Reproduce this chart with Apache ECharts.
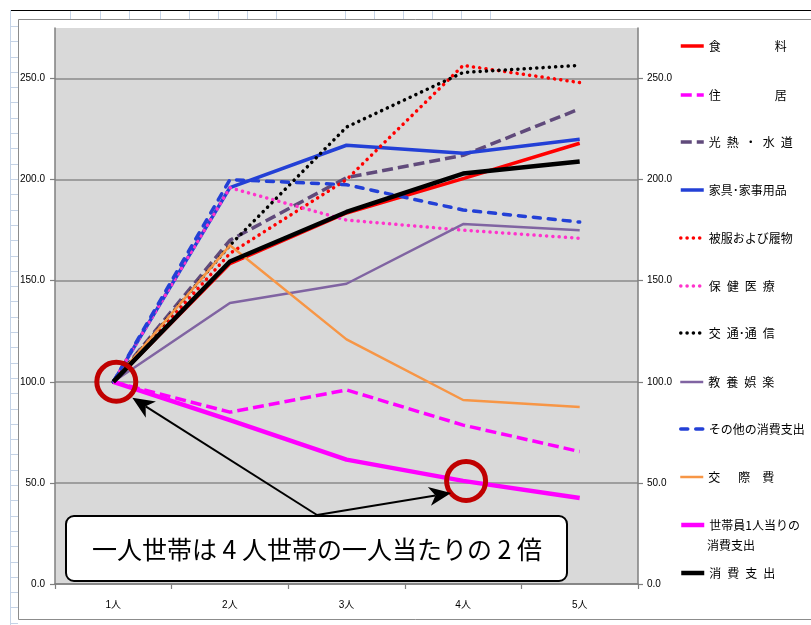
<!DOCTYPE html>
<html>
<head>
<meta charset="utf-8">
<script src="https://cdn.jsdelivr.net/npm/echarts@6/dist/echarts.min.js"></script>
<style>
  html, body { margin: 0; padding: 0; background: #ffffff; }
  #chart { width: 811px; height: 625px; }
</style>
</head>
<body>
<div id="chart"></div>
<script>
// 世帯人員別 消費支出の指数（1人 = 100）
const categories = ['1人', '2人', '3人', '4人', '5人'];

const food          = [100, 158.5, 183.5, 200.5, 218];
const housing       = [100, 85, 96, 78.6, 65.5];
const utilities     = [100, 170, 201, 212, 235];
const furniture     = [100, 196, 217, 213, 220];
const clothing      = [100, 163.5, 200, 256.5, 248];
const medical       = [100, 196, 180, 175, 171];
const transport     = [100, 167.5, 226, 253, 256.5];
const culture       = [100, 139, 148.5, 178, 175];
const otherSpending = [100, 200, 197.5, 185, 179];
const socialCost    = [100, 167.5, 121, 91, 87.5];
const perCapita     = [100, 81, 61.5, 51, 42.5];
const totalSpending = [100, 159.5, 184, 203, 209];

const seriesNames = [
  '食料', '住居', '光熱・水道', '家具・家事用品', '被服および履物', '保健医療',
  '交通・通信', '教養娯楽', 'その他の消費支出', '交際費', '世帯員1人当りの消費支出', '消費支出'
];
const legendLabels = [
  '食　　　　\u2002料', '住　　　　\u2002居', '光\u2002熱\u2002・\u2002水\u2002道', '家具･家事用品',
  '被服および履物', '保\u2002健\u2002医\u2002療', '交\u2002通･通\u2002信', '教\u2002養\u2002娯\u2002楽',
  'その他の消費支出', '交　\u2002際\u2002\u2002費', '世帯員1人当りの', '消\u2002費\u2002支\u2002出'
];
const seriesValues = [
  food, housing, utilities, furniture, clothing, medical,
  transport, culture, otherSpending, socialCost, perCapita, totalSpending
];

const yMin = 0, yMax = 275, yStep = 50;
const calloutText = '一人世帯は 4 人世帯の一人当たりの 2 倍';

// line appearance per series
const DOT = [0.1, 6.2];
const DASH = [11, 5];
const styles = [
  { color: '#FF0000', width: 3.5, type: 'solid' },
  { color: '#FF00FF', width: 3.5, type: DASH },
  { color: '#604A7B', width: 3.5, type: DASH },
  { color: '#2340D6', width: 3.5, type: 'solid' },
  { color: '#FF0000', width: 3.5, type: DOT, cap: 'round' },
  { color: '#FF33CC', width: 3.5, type: DOT, cap: 'round' },
  { color: '#000000', width: 3.5, type: DOT, cap: 'round' },
  { color: '#8064A2', width: 2.5, type: 'solid' },
  { color: '#2340D6', width: 3.5, type: [7, 8], cap: 'round' },
  { color: '#F79646', width: 2.5, type: 'solid' },
  { color: '#FF00FF', width: 4.5, type: 'solid' },
  { color: '#000000', width: 4.5, type: 'solid' }
];

const legendCenters = [47, 96, 143, 191, 239, 287, 334, 383, 430, 478, 526, 574];

const chart = echarts.init(document.getElementById('chart'), null, { renderer: 'canvas' });

const axisFont = { fontFamily: 'Liberation Sans, Noto Sans CJK JP, sans-serif', fontSize: 10, color: '#000' };

const yAxisCommon = {
  type: 'value', min: yMin, max: yMax, interval: yStep,
  axisLine: { show: true, lineStyle: { color: '#7f7f7f', width: 1.5 } },
  axisTick: { show: true, length: 5, lineStyle: { color: '#7f7f7f', width: 1.2 } },
  axisLabel: Object.assign({ showMaxLabel: false, formatter: v => v.toFixed(1) }, axisFont)
};

const option = {
  animation: false,
  backgroundColor: '#ffffff',
  grid: {
    left: 55, right: 173, top: 28, bottom: 41,
    show: true, backgroundColor: '#D9D9D9', borderWidth: 0, containLabel: false
  },
  xAxis: {
    type: 'category', data: categories, boundaryGap: true,
    axisLine: { lineStyle: { color: '#7f7f7f', width: 1.5 } },
    axisTick: { show: true, length: 5, lineStyle: { color: '#7f7f7f', width: 1.2 } },
    axisLabel: Object.assign({ margin: 16 }, axisFont),
    splitLine: { show: false }
  },
  yAxis: [
    Object.assign({}, yAxisCommon, {
      position: 'left',
      axisLabel: Object.assign({}, yAxisCommon.axisLabel, { margin: 10 }),
      splitLine: { show: true, showMaxLine: false, lineStyle: { color: '#8a8a8a', width: 1.5 } }
    }),
    Object.assign({}, yAxisCommon, {
      position: 'right',
      axisLabel: Object.assign({}, yAxisCommon.axisLabel, { margin: 9 }),
      splitLine: { show: false }
    })
  ],
  legend: seriesNames.map((name, i) => ({
    data: [name],
    orient: 'vertical',
    left: 679,
    top: legendCenters[i] - 7,
    itemWidth: 23,
    itemHeight: 14,
    padding: 0,
    selectedMode: false,
    formatter: () => legendLabels[i],
    lineStyle: { width: 'inherit' },
    itemStyle: { opacity: 0, borderWidth: 0 },
    textStyle: { fontFamily: 'Noto Sans CJK JP, sans-serif', fontSize: 12, color: '#000' }
  })),
  series: seriesNames.map((name, i) => ({
    name: name,
    type: 'line',
    data: seriesValues[i],
    yAxisIndex: 0,
    symbol: 'none',
    showSymbol: false,
    smooth: false,
    z: 2 + i,
    lineStyle: {
      color: styles[i].color,
      width: styles[i].width,
      type: styles[i].type,
      cap: styles[i].cap || 'butt',
      join: 'round'
    },
    itemStyle: { color: styles[i].color }
  }))
};

chart.setOption(option);

// stealth-style arrowhead + shaft from a start point to a tip
function arrow(from, tip) {
  const dx = from[0] - tip[0], dy = from[1] - tip[1];
  const len = Math.sqrt(dx * dx + dy * dy);
  const ux = dx / len, uy = dy / len;
  const nx = -uy, ny = ux;
  const L = 22, W = 9.5;
  const base = [tip[0] + ux * L, tip[1] + uy * L];
  const notch = [tip[0] + ux * L * 0.72, tip[1] + uy * L * 0.72];
  return [
    {
      type: 'line', z: 100,
      shape: { x1: from[0], y1: from[1], x2: notch[0], y2: notch[1] },
      style: { stroke: '#000', lineWidth: 2 }
    },
    {
      type: 'polygon', z: 101,
      shape: { points: [tip, [base[0] + nx * W, base[1] + ny * W], notch, [base[0] - nx * W, base[1] - ny * W]] },
      style: { fill: '#000' }
    }
  ];
}

const p1 = chart.convertToPixel({ xAxisIndex: 0, yAxisIndex: 0 }, [categories[0], perCapita[0]]);
const p2 = chart.convertToPixel({ xAxisIndex: 0, yAxisIndex: 0 }, [categories[3], perCapita[3]]);
const c1 = [p1[0] + 3, p1[1]];
const c2 = [p2[0] + 3, p2[1]];
const origin = [317, 515];

const graphics = [];

// worksheet surroundings
graphics.push({ type: 'line', z: -10, shape: { x1: 10, y1: 10.5, x2: 811, y2: 10.5 }, style: { stroke: '#000', lineWidth: 1.2 } });
graphics.push({ type: 'line', z: -10, shape: { x1: 10.5, y1: 10, x2: 10.5, y2: 625 }, style: { stroke: '#c5d3e6', lineWidth: 1 } });
for (let y = 26; y < 625; y += 15.3) {
  graphics.push({ type: 'line', z: -10, shape: { x1: 10, y1: Math.round(y) + 0.5, x2: 18, y2: Math.round(y) + 0.5 }, style: { stroke: '#c5d3e6', lineWidth: 1 } });
}
[70, 100, 129, 160, 189, 218, 247, 276, 345, 374, 403, 432, 461, 490].forEach(x => {
  graphics.push({ type: 'line', z: -10, shape: { x1: x + 0.5, y1: 11, x2: x + 0.5, y2: 19 }, style: { stroke: '#c5d3e6', lineWidth: 1 } });
});
graphics.push({ type: 'rect', z: -5, shape: { x: 18.5, y: 19.5, width: 800, height: 600 }, style: { fill: '#fff', stroke: '#8c8c8c', lineWidth: 1 } });

// circled points
[c1, c2].forEach(c => {
  graphics.push({ type: 'circle', z: 90, shape: { cx: c[0], cy: c[1], r: 19.5 }, style: { fill: 'none', stroke: '#C00000', lineWidth: 5 } });
});

// arrows from the callout to both circles
graphics.push(...arrow(origin, [c1[0] + 16, c1[1] + 16]));
graphics.push(...arrow(origin, [c2[0] - 15, c2[1] + 12]));

// callout box
graphics.push({
  type: 'rect', z: 110,
  shape: { x: 66, y: 516, width: 501, height: 65, r: 8 },
  style: { fill: '#fff', stroke: '#000', lineWidth: 2 }
});
graphics.push({
  type: 'text', z: 111,
  x: 317, y: 549,
  style: {
    text: calloutText, fill: '#000',
    font: '25px "Noto Sans CJK JP", sans-serif',
    align: 'center', verticalAlign: 'middle'
  }
});

// second line of the per-capita legend label
graphics.push({
  type: 'text', z: 50,
  x: 707, y: 545,
  style: {
    text: '消費支出', fill: '#000',
    font: '12px "Noto Sans CJK JP", sans-serif',
    align: 'left', verticalAlign: 'middle'
  }
});

chart.setOption({ graphic: graphics });
</script>
</body>
</html>
